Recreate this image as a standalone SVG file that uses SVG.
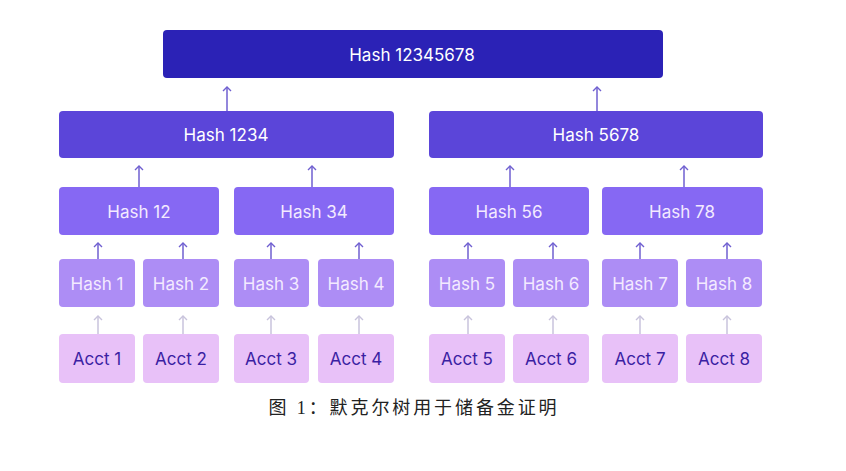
<svg xmlns="http://www.w3.org/2000/svg" width="846" height="471" viewBox="0 0 846 471">
<defs>
<marker id="ah" viewBox="0 0 10 10" refX="9" refY="5" markerWidth="10" markerHeight="10" markerUnits="userSpaceOnUse" orient="auto-start-reverse">
<path d="M5,1 L9,5 L5,9" fill="none" stroke="context-stroke" stroke-width="1.4"/>
</marker>
<style>
.t{font-family:Inter,"Liberation Sans",sans-serif;font-size:17px;text-anchor:middle;dominant-baseline:central}
.w{fill:#ffffff}
.l{fill:#f3eaff}
.d{fill:#3b1fa3}
.c1{fill:#2b22b6}
.c2{fill:#5b45d9}
.c3{fill:#8668f3}
.c4{fill:#ad8df5}
.c5{fill:#e8c1f8}
.a{stroke:#6f5fd0;stroke-width:1.5;fill:none;marker-start:url(#ah)}
.b{stroke:#c8c3dc;stroke-width:1.5;fill:none;marker-start:url(#ah)}
.cap{font-family:"Liberation Serif","Noto Sans CJK SC",serif;font-size:18px;letter-spacing:2.9px;fill:#222;text-anchor:middle;dominant-baseline:central}
</style>
</defs>
<rect width="846" height="471" fill="#ffffff"/>
<g id="connectors">
<line class="a" x1="227" y1="87" x2="227" y2="111"/>
<line class="a" x1="597" y1="87" x2="597" y2="111"/>
<line class="a" x1="139" y1="166" x2="139" y2="187"/>
<line class="a" x1="312" y1="166" x2="312" y2="187"/>
<line class="a" x1="510" y1="166" x2="510" y2="187"/>
<line class="a" x1="684" y1="166" x2="684" y2="187"/>
<line class="a" x1="98" y1="243" x2="98" y2="259"/>
<line class="a" x1="183" y1="243" x2="183" y2="259"/>
<line class="a" x1="271" y1="243" x2="271" y2="259"/>
<line class="a" x1="359" y1="243" x2="359" y2="259"/>
<line class="a" x1="468" y1="243" x2="468" y2="259"/>
<line class="a" x1="553" y1="243" x2="553" y2="259"/>
<line class="a" x1="640" y1="243" x2="640" y2="259"/>
<line class="a" x1="727" y1="243" x2="727" y2="259"/>
<line class="b" x1="98" y1="316" x2="98" y2="334"/>
<line class="b" x1="183" y1="316" x2="183" y2="334"/>
<line class="b" x1="271" y1="316" x2="271" y2="334"/>
<line class="b" x1="359" y1="316" x2="359" y2="334"/>
<line class="b" x1="468" y1="316" x2="468" y2="334"/>
<line class="b" x1="553" y1="316" x2="553" y2="334"/>
<line class="b" x1="640" y1="316" x2="640" y2="334"/>
<line class="b" x1="727" y1="316" x2="727" y2="334"/>
</g>
<g id="h12345678"><rect class="c1" x="163" y="30" width="500" height="48" rx="4"/><text class="t w" x="412" y="55">Hash 12345678</text></g>
<g id="h1234"><rect class="c2" x="59" y="111" width="335" height="47" rx="4"/><text class="t w" x="226" y="135">Hash 1234</text></g>
<g id="h5678"><rect class="c2" x="429" y="111" width="334" height="47" rx="4"/><text class="t w" x="596" y="135">Hash 5678</text></g>
<g id="h12"><rect class="c3" x="59" y="187" width="160" height="48" rx="4"/><text class="t l" x="139" y="212">Hash 12</text></g>
<g id="h34"><rect class="c3" x="234" y="187" width="160" height="48" rx="4"/><text class="t l" x="314" y="212">Hash 34</text></g>
<g id="h56"><rect class="c3" x="429" y="187" width="160" height="48" rx="4"/><text class="t l" x="509" y="212">Hash 56</text></g>
<g id="h78"><rect class="c3" x="602" y="187" width="161" height="48" rx="4"/><text class="t l" x="682" y="212">Hash 78</text></g>
<g id="h1"><rect class="c4" x="59" y="259" width="76" height="48" rx="4"/><text class="t l" x="97" y="284">Hash 1</text></g>
<g id="h2"><rect class="c4" x="143" y="259" width="76" height="48" rx="4"/><text class="t l" x="181" y="284">Hash 2</text></g>
<g id="h3"><rect class="c4" x="234" y="259" width="75" height="48" rx="4"/><text class="t l" x="271" y="284">Hash 3</text></g>
<g id="h4"><rect class="c4" x="318" y="259" width="76" height="48" rx="4"/><text class="t l" x="356" y="284">Hash 4</text></g>
<g id="h5"><rect class="c4" x="429" y="259" width="76" height="48" rx="4"/><text class="t l" x="467" y="284">Hash 5</text></g>
<g id="h6"><rect class="c4" x="513" y="259" width="76" height="48" rx="4"/><text class="t l" x="551" y="284">Hash 6</text></g>
<g id="h7"><rect class="c4" x="602" y="259" width="76" height="48" rx="4"/><text class="t l" x="640" y="284">Hash 7</text></g>
<g id="h8"><rect class="c4" x="686" y="259" width="76" height="48" rx="4"/><text class="t l" x="724" y="284">Hash 8</text></g>
<g id="a1"><rect class="c5" x="59" y="334" width="76" height="49" rx="4"/><text class="t d" x="97" y="359">Acct 1</text></g>
<g id="a2"><rect class="c5" x="143" y="334" width="76" height="49" rx="4"/><text class="t d" x="181" y="359">Acct 2</text></g>
<g id="a3"><rect class="c5" x="234" y="334" width="75" height="49" rx="4"/><text class="t d" x="271" y="359">Acct 3</text></g>
<g id="a4"><rect class="c5" x="318" y="334" width="76" height="49" rx="4"/><text class="t d" x="356" y="359">Acct 4</text></g>
<g id="a5"><rect class="c5" x="429" y="334" width="76" height="49" rx="4"/><text class="t d" x="467" y="359">Acct 5</text></g>
<g id="a6"><rect class="c5" x="513" y="334" width="76" height="49" rx="4"/><text class="t d" x="551" y="359">Acct 6</text></g>
<g id="a7"><rect class="c5" x="602" y="334" width="76" height="49" rx="4"/><text class="t d" x="640" y="359">Acct 7</text></g>
<g id="a8"><rect class="c5" x="686" y="334" width="76" height="49" rx="4"/><text class="t d" x="724" y="359">Acct 8</text></g>
<text class="cap" x="414" y="408">图 1：默克尔树用于储备金证明</text>
</svg>
